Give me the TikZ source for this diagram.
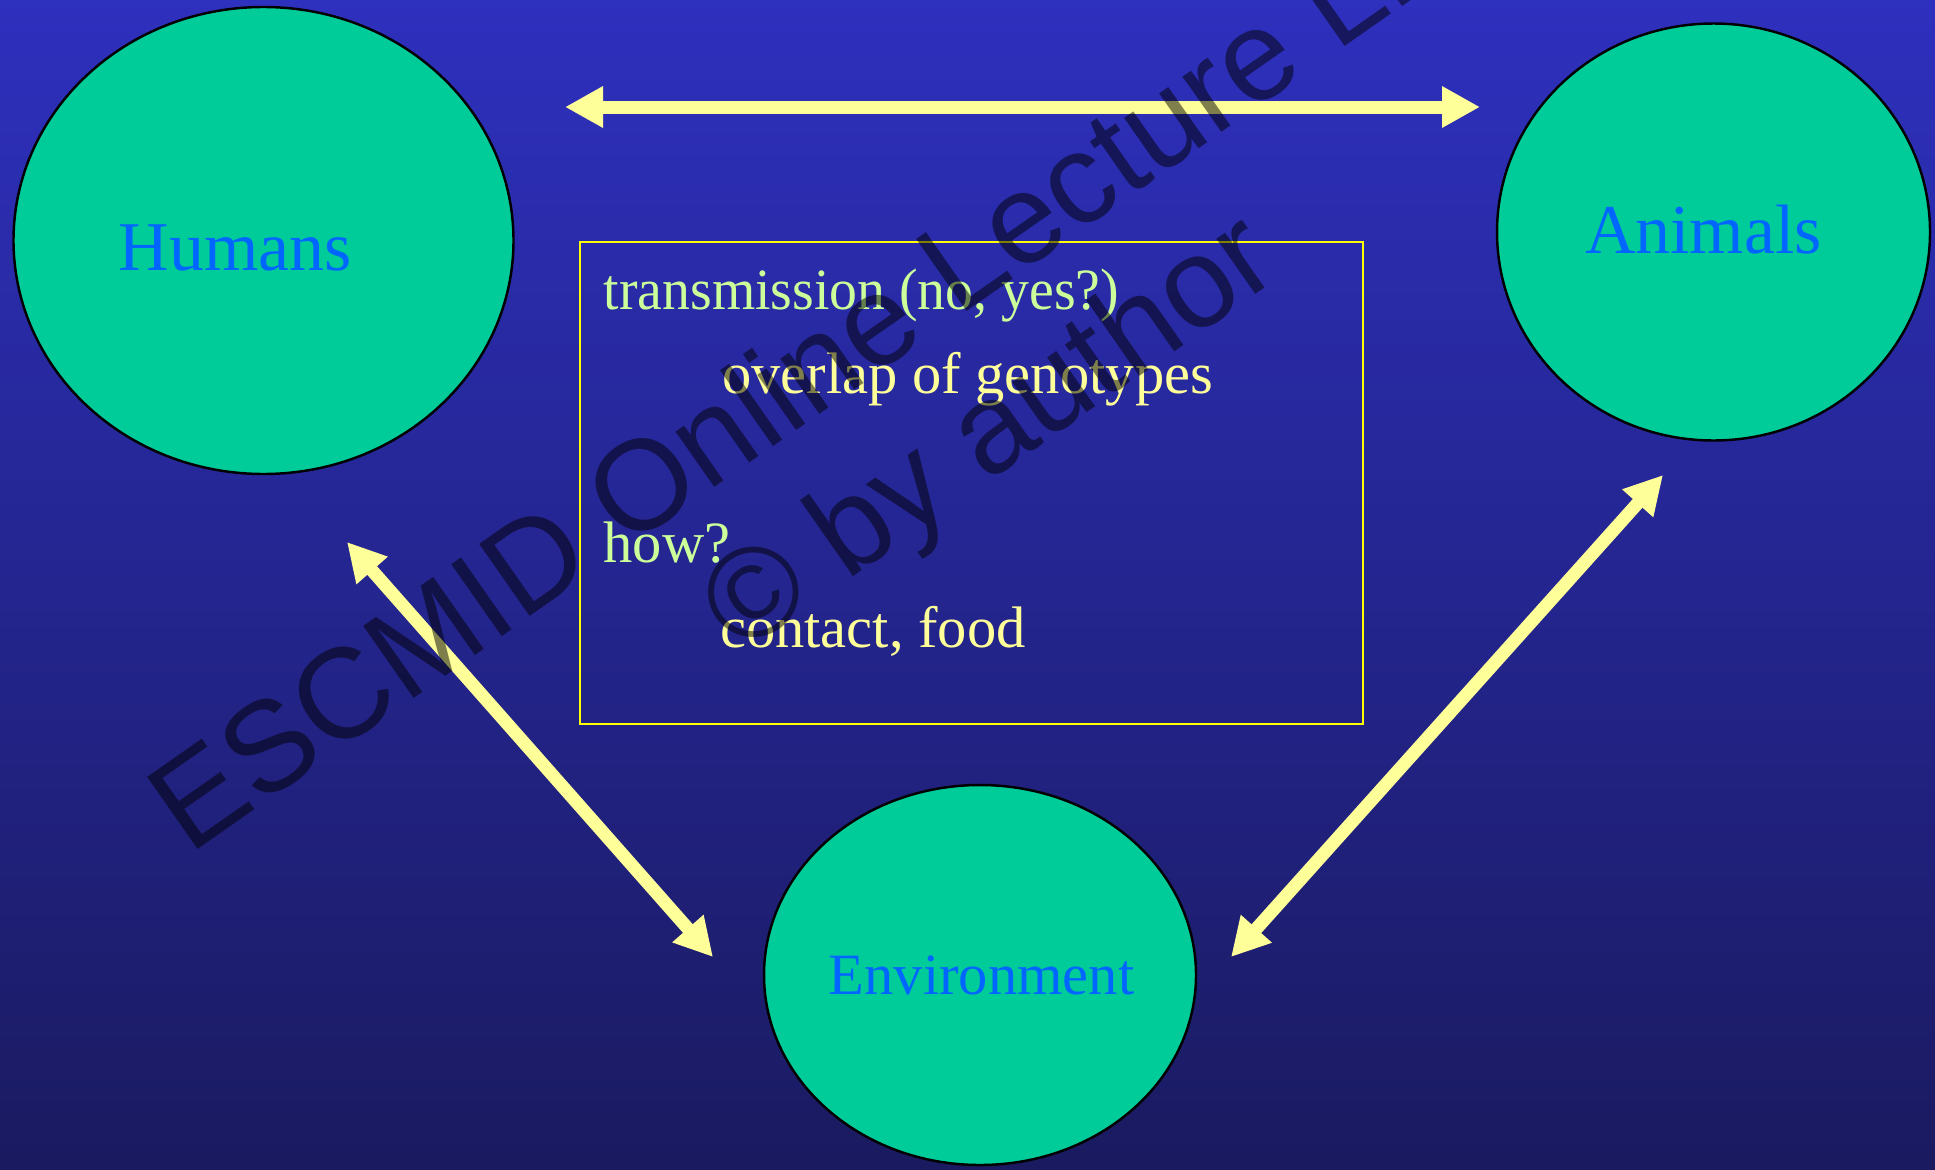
\documentclass[tikz,border=0pt]{standalone}
\usepackage{fontspec}
\setmainfont{Liberation Serif}
\newfontfamily\condserif[FakeStretch=0.952]{Liberation Serif}
\newfontfamily\wmfont{Liberation Sans}
\usetikzlibrary{shapes.geometric,arrows.meta}
\definecolor{bgtop}{RGB}{46,48,190}
\definecolor{bgbot}{RGB}{26,26,96}
\definecolor{blobfill}{RGB}{0,204,153}
\definecolor{blobtext}{RGB}{0,102,255}
\definecolor{arrowyellow}{RGB}{255,255,153}
\definecolor{textgreen}{RGB}{204,255,153}
\definecolor{textyellow}{RGB}{255,255,153}
\definecolor{boxyellow}{RGB}{255,255,0}
\begin{document}
\begin{tikzpicture}[
  blob/.style={ellipse, draw=black, line width=0.7pt, fill=blobfill, inner sep=0pt},
  bloblabel/.style={text=blobtext, inner sep=0pt, anchor=base},
  bigfont/.style={font=\fontsize{19.9}{24}\selectfont},
  midfont/.style={font=\fontsize{16.65}{20}\selectfont},
  condfont/.style={font=\condserif\fontsize{16.65}{20}\selectfont},
  link/.style={draw=arrowyellow, line width=0.13cm,
    {Triangle[length=0.38cm,width=0.39cm]}-{Triangle[length=0.38cm,width=0.39cm]}},
  infobox/.style={draw=boxyellow, line width=0.02cm, rectangle, inner sep=0pt},
  boxtext/.style={inner sep=0pt, anchor=base west},
  wm/.style={rotate=35, anchor=base, inner sep=0pt, text=black, text opacity=0.5,
    font=\wmfont\fontsize{36.4}{40}\selectfont}
]
\useasboundingbox (0,0) rectangle (19.35,-11.69);
\clip (0,0) rectangle (19.35,-11.69);
\shade[top color=bgtop, bottom color=bgbot] (0,0) rectangle (19.35,-11.69);

% ellipses
\node[blob, minimum width=5.00cm, minimum height=4.67cm] (humans) at (2.635,-2.405) {};
\node[blob, minimum width=4.33cm, minimum height=4.17cm] (animals) at (17.135,-2.32) {};
\node[blob, minimum width=4.32cm, minimum height=3.80cm] (environment) at (9.80,-9.75) {};

\node[bloblabel, bigfont] (humanslbl) at (2.355,-2.70) {Humans};
\node[bloblabel, bigfont] (animalslbl) at (17.035,-2.53) {Animals};
\node[bloblabel, midfont] (envlbl) at (9.815,-9.94) {Environment};

% central box
\node[infobox, minimum width=7.83cm, minimum height=4.82cm] (info) at (9.715,-4.83) {};
\node[boxtext, condfont, text=textgreen] (t1) at (6.03,-3.09) {transmission (no, yes?)};
\node[boxtext, midfont, text=textyellow] (t2) at (7.215,-3.93) {overlap of genotypes};
\node[boxtext, midfont, text=textgreen] (t3) at (6.03,-5.62) {how?};
\node[boxtext, midfont, text=textyellow] (t4) at (7.195,-6.47) {contact, food};

% arrow end points
\coordinate (ha1) at (5.65,-1.07);
\coordinate (ha2) at (14.80,-1.07);
\coordinate (la1) at (3.47,-5.42);
\coordinate (la2) at (7.13,-9.57);
\coordinate (ra1) at (16.63,-4.75);
\coordinate (ra2) at (12.31,-9.57);

\draw[link] (ha1) -- (ha2);
\draw[link] (la1) -- (la2);
\draw[link] (ra1) -- (ra2);

% watermark
\node[wm] (wm1) at (9.236,-3.415) {ESCMID Online Lecture Library};
\node[wm] (wm2) at (10.12,-4.654) {© by author};
\end{tikzpicture}
\end{document}
